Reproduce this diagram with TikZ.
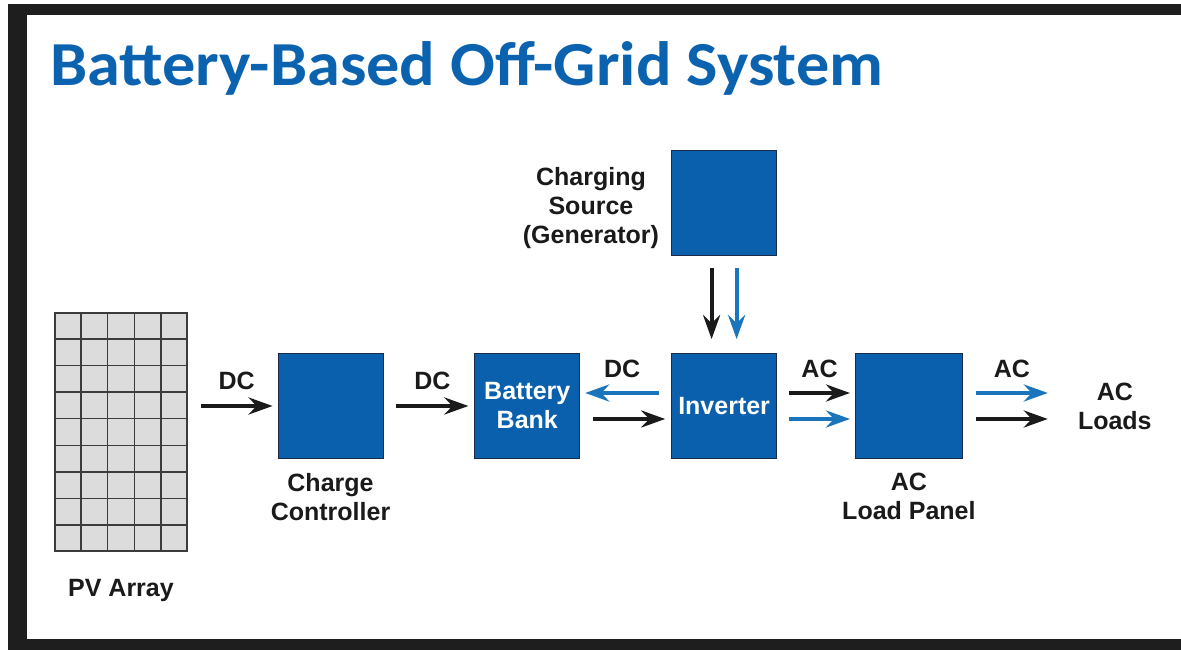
\documentclass[tikz,border=0pt]{standalone}
\usepackage{fontspec}
\setmainfont{Liberation Sans}
\newfontfamily\titlefont{Carlito}
\usepackage{tikz}
\usetikzlibrary{arrows.meta,positioning,calc}
\definecolor{sysblue}{HTML}{0A60AD}
\definecolor{flowblue}{HTML}{1B75BC}
\definecolor{titleblue}{HTML}{0B63B0}
\definecolor{edgenavy}{HTML}{1C2B45}
\definecolor{framedark}{HTML}{1E1E1E}
\definecolor{cellgray}{HTML}{DCDCDC}
\definecolor{gridgray}{HTML}{3C3C3C}
\definecolor{inkblack}{HTML}{1A1A1A}

\begin{document}
\begin{tikzpicture}[x=1pt,y=1pt,
    every node/.style={font=\fontsize{25}{29}\selectfont\bfseries,align=center,
                       inner sep=0pt,text=inkblack},
    unit/.style={fill=sysblue,draw=edgenavy,line width=0.8pt,
                 minimum width=105pt,minimum height=105pt,text=white},
    gridline/.style={draw=gridgray,line width=1.5pt},
    flowk/.style={draw=inkblack,line width=4pt,
                  -{Stealth[length=24pt,width=17pt,inset=8pt]}},
    flowb/.style={flowk,draw=flowblue}]
  % frame
  \useasboundingbox (0,0) rectangle (1181,650);
  \fill[framedark] (8,0) rectangle (1181,646);
  \fill[white] (27,11) rectangle (1181,635);
  \node[anchor=base west,text=titleblue] (title) at (50,564)
    {\resizebox{833pt}{44pt}{\titlefont\bfseries Battery-Based Off-Grid System}};
  % blocks
  \node[unit] (cc) at (330.5,244) {};
  \node[unit,right=91pt of cc] (bb) {Battery\\Bank};
  \node[unit,right=91pt of bb] (inv) {Inverter};
  \node[unit,right=78pt of inv,minimum width=107pt] (lp) {};
  \node[unit,above=97pt of inv] (gen) {};
  \node[fill=cellgray,gridline,minimum width=132pt,minimum height=238pt] (pv) at (121,218) {};
  \foreach \c in {1,...,4}
    \draw[gridline] ($(pv.south west)!\c/5!(pv.south east)$) -- ($(pv.north west)!\c/5!(pv.north east)$);
  \foreach \r in {1,...,8}
    \draw[gridline] ($(pv.south west)!\r/9!(pv.north west)$) -- ($(pv.south east)!\r/9!(pv.north east)$);
  % labels
  \node[below=27pt of pv] (pvlabel) {PV Array};
  \node[below=14pt of cc] (cclabel) {Charge\\Controller};
  \node[below=14pt of lp] (lplabel) {AC\\Load Panel};
  \node[left=12pt of gen,yshift=-5pt] (genlabel) {Charging\\Source\\(Generator)};
  \node[right=115pt of lp] (loads) {AC\\Loads};
  % flows
  \draw[flowk] ([xshift=-77pt]cc.west) -- node[above=14pt]{DC} ([xshift=-5pt]cc.west);
  \draw[flowk] ([xshift=13pt]cc.east) -- node[above=14pt]{DC} ([xshift=-6pt]bb.west);
  \draw[flowb] ([shift={(-12pt,13pt)}]inv.west) -- node[above=13pt]{DC} ([shift={(5pt,13pt)}]bb.east);
  \draw[flowk] ([shift={(13pt,-13pt)}]bb.east) -- ([shift={(-6pt,-13pt)}]inv.west);
  \draw[flowk] ([shift={(12pt,13pt)}]inv.east) -- node[above=13pt]{AC} ([shift={(-5pt,13pt)}]lp.west);
  \draw[flowb] ([shift={(12pt,-13pt)}]inv.east) -- ([shift={(-5pt,-13pt)}]lp.west);
  \draw[flowb] ([shift={(13pt,13pt)}]lp.east) -- node[above=13pt]{AC} ([shift={(85pt,13pt)}]lp.east);
  \draw[flowk] ([shift={(13pt,-13pt)}]lp.east) -- ([shift={(85pt,-13pt)}]lp.east);
  \draw[flowk] ([shift={(-12.5pt,-12pt)}]gen.south) -- ([shift={(-12.5pt,14pt)}]inv.north);
  \draw[flowb] ([shift={(12.5pt,-12pt)}]gen.south) -- ([shift={(12.5pt,14pt)}]inv.north);
\end{tikzpicture}
\end{document}
